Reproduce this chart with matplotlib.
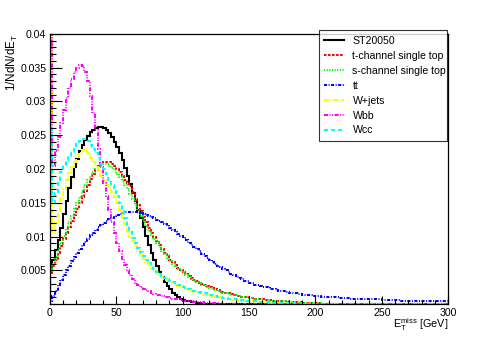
import numpy as np
import matplotlib
matplotlib.use("Agg")
import matplotlib.pyplot as plt
from matplotlib.lines import Line2D
from matplotlib.ticker import FixedLocator, FixedFormatter, MultipleLocator

plt.rcParams['font.family'] = ['Liberation Sans', 'DejaVu Sans']
plt.rcParams['mathtext.fontset'] = 'custom'
plt.rcParams['mathtext.rm'] = 'Liberation Sans'
plt.rcParams['mathtext.it'] = 'Liberation Sans:italic'
plt.rcParams['lines.scale_dashes'] = False

# ---------------- data (2 GeV bins, 0-300 GeV) ----------------
bin_edges_gev = np.arange(0, 302, 2)

st20050 = [
    0.0055, 0.0065, 0.0080, 0.0095, 0.0112, 0.0133, 0.0153, 0.0172, 0.0188, 0.0203,
    0.0215, 0.0226, 0.0235, 0.0243, 0.0249, 0.0254, 0.0258, 0.0261, 0.0262, 0.0262,
    0.0260, 0.0257, 0.0253, 0.0247, 0.0240, 0.0232, 0.0223, 0.0213, 0.0202, 0.0190,
    0.0178, 0.0165, 0.0152, 0.0139, 0.0127, 0.0114, 0.0101, 0.0088, 0.0076, 0.0066,
    0.0057, 0.0048, 0.0040, 0.0033, 0.0027, 0.0022, 0.0017, 0.0013, 0.0010, 0.0008,
    0.0006, 0.0005, 0.0004, 0.0003, 0.0003, 0.0002, 0.0002, 0.0001, 0.0001, 0.0001,
    0, 0, 0, 0, 0, 0, 0, 0, 0, 0,
    0, 0, 0, 0, 0, 0, 0, 0, 0, 0,
    0, 0, 0, 0, 0, 0, 0, 0, 0, 0,
    0, 0, 0, 0, 0, 0, 0, 0, 0, 0,
    0, 0, 0, 0, 0, 0, 0, 0, 0, 0,
    0, 0, 0, 0, 0, 0, 0, 0, 0, 0,
    0, 0, 0, 0, 0, 0, 0, 0, 0, 0,
    0, 0, 0, 0, 0, 0, 0, 0, 0, 0,
    0, 0, 0, 0, 0, 0, 0, 0, 0, 0,
]

t_channel = [
    0.0046, 0.0056, 0.0066, 0.0076, 0.0086, 0.0096, 0.0105, 0.0114, 0.0123, 0.0132,
    0.0141, 0.0150, 0.0159, 0.0168, 0.0177, 0.0185, 0.0192, 0.0198, 0.0204, 0.0208,
    0.0211, 0.0211, 0.0210, 0.0207, 0.0204, 0.0200, 0.0195, 0.0190, 0.0184, 0.0180,
    0.0175, 0.0166, 0.0156, 0.0147, 0.0138, 0.0129, 0.0121, 0.0113, 0.0106, 0.0099,
    0.0093, 0.0087, 0.0081, 0.0076, 0.0071, 0.0066, 0.0062, 0.0058, 0.0054, 0.0050,
    0.0047, 0.0044, 0.0041, 0.0039, 0.0036, 0.0034, 0.0032, 0.0030, 0.0028, 0.0027,
    0.0025, 0.0024, 0.0022, 0.0021, 0.0019, 0.0018, 0.0017, 0.0016, 0.0015, 0.0014,
    0.0013, 0.0012, 0.0011, 0.0011, 0.0010, 0.0009, 0.0009, 0.0008, 0.0008, 0.0007,
    0.0007, 0.0006, 0.0006, 0.0006, 0.0005, 0.0005, 0.0005, 0.0004, 0.0004, 0.0004,
    0.0003, 0.0003, 0.0003, 0.0003, 0.0003, 0.0002, 0.0002, 0.0002, 0.0002, 0.0002,
    0.0002, 0.0002, 0.0001, 0.0001, 0.0001, 0.0001, 0.0001, 0.0001, 0.0001, 0.0001,
    0.0001, 0.0001, 0.0001, 0.0001, 0.0001, 0.0001, 0.0001, 0.0001, 0.0001, 0.0001,
    0.0001, 0.0001, 0.0001, 0.0001, 0.00005, 0.00005, 0.00005, 0.00005, 0.00005, 0.00005,
    0.00005, 0.00005, 0.00005, 0.00005, 0.00005, 0.00005, 0.00005, 0.00005, 0.00005, 0.00005,
    0.00005, 0.00005, 0.00005, 0.00005, 0.00005, 0.00005, 0.00005, 0.00005, 0.00005, 0.00005,
]

s_channel = [
    0.0050, 0.0060, 0.0070, 0.0081, 0.0091, 0.0101, 0.0111, 0.0121, 0.0131, 0.0141,
    0.0150, 0.0159, 0.0168, 0.0176, 0.0183, 0.0189, 0.0195, 0.0200, 0.0203, 0.0206,
    0.0207, 0.0207, 0.0205, 0.0202, 0.0198, 0.0193, 0.0188, 0.0182, 0.0176, 0.0170,
    0.0163, 0.0155, 0.0147, 0.0139, 0.0131, 0.0123, 0.0116, 0.0109, 0.0102, 0.0096,
    0.0090, 0.0084, 0.0079, 0.0074, 0.0069, 0.0064, 0.0060, 0.0056, 0.0052, 0.0049,
    0.0046, 0.0043, 0.0040, 0.0037, 0.0035, 0.0033, 0.0031, 0.0029, 0.0027, 0.0025,
    0.0024, 0.0022, 0.0021, 0.0020, 0.0018, 0.0017, 0.0016, 0.0015, 0.0014, 0.0013,
    0.0012, 0.0012, 0.0011, 0.0010, 0.0010, 0.0009, 0.0008, 0.0008, 0.0007, 0.0007,
    0.0006, 0.0006, 0.0006, 0.0005, 0.0005, 0.0005, 0.0004, 0.0004, 0.0004, 0.0003,
    0.0003, 0.0003, 0.0003, 0.0003, 0.0003, 0.0002, 0.0002, 0.0002, 0.0002, 0.0002,
    0.0002, 0.0002, 0.0001, 0.0001, 0.0001, 0.0001, 0.0001, 0.0001, 0.0001, 0.0001,
    0.0001, 0.0001, 0.0001, 0.0001, 0.0001, 0.0001, 0.0001, 0.0001, 0.0001, 0.0001,
    0.00005, 0.00005, 0.00005, 0.00005, 0.00005, 0.00005, 0.00005, 0.00005, 0.00005, 0.00005,
    0.00005, 0.00005, 0.00005, 0.00005, 0.00005, 0.00005, 0.00005, 0.00005, 0.00005, 0.00005,
    0.00005, 0.00005, 0.00005, 0.00005, 0.00005, 0.00005, 0.00005, 0.00005, 0.00005, 0.00005,
]

ttbar = [
    0.0004, 0.0012, 0.0020, 0.0028, 0.0036, 0.0043, 0.0050, 0.0057, 0.0064, 0.0070,
    0.0076, 0.0082, 0.0087, 0.0092, 0.0097, 0.0102, 0.0106, 0.0110, 0.0114, 0.0117,
    0.0120, 0.0123, 0.0126, 0.0128, 0.0130, 0.0132, 0.0134, 0.0135, 0.0136, 0.0137,
    0.0137, 0.0137, 0.0137, 0.0136, 0.0135, 0.0134, 0.0132, 0.0131, 0.0129, 0.0127,
    0.0125, 0.0123, 0.0121, 0.0118, 0.0116, 0.0113, 0.0110, 0.0107, 0.0104, 0.0101,
    0.0098, 0.0095, 0.0091, 0.0088, 0.0085, 0.0081, 0.0078, 0.0075, 0.0072, 0.0069,
    0.0066, 0.0063, 0.0060, 0.0057, 0.0055, 0.0052, 0.0050, 0.0047, 0.0045, 0.0043,
    0.0041, 0.0039, 0.0037, 0.0035, 0.0034, 0.0032, 0.0031, 0.0029, 0.0028, 0.0027,
    0.0026, 0.0025, 0.0024, 0.0023, 0.0022, 0.0021, 0.0020, 0.0019, 0.0019, 0.0018,
    0.0017, 0.0017, 0.0016, 0.0015, 0.0015, 0.0014, 0.0014, 0.0013, 0.0013, 0.0012,
    0.0012, 0.0012, 0.0011, 0.0011, 0.0011, 0.0010, 0.0010, 0.0010, 0.0010, 0.0009,
    0.0009, 0.0009, 0.0009, 0.0008, 0.0008, 0.0008, 0.0008, 0.0008, 0.0007, 0.0007,
    0.0007, 0.0007, 0.0007, 0.0007, 0.0007, 0.0006, 0.0006, 0.0006, 0.0006, 0.0006,
    0.0006, 0.0006, 0.0005, 0.0005, 0.0005, 0.0005, 0.0005, 0.0005, 0.0005, 0.0005,
    0.0004, 0.0004, 0.0004, 0.0004, 0.0004, 0.0004, 0.0004, 0.0004, 0.0004, 0.0004,
]

w_jets = [
    0.0450, 0.0105, 0.0120, 0.0138, 0.0155, 0.0170, 0.0183, 0.0194, 0.0203, 0.0211,
    0.0218, 0.0224, 0.0228, 0.0229, 0.0223, 0.0216, 0.0210, 0.0204, 0.0197, 0.0189,
    0.0182, 0.0176, 0.0172, 0.0166, 0.0158, 0.0149, 0.0139, 0.0128, 0.0118, 0.0108,
    0.0100, 0.0093, 0.0086, 0.0079, 0.0073, 0.0067, 0.0062, 0.0057, 0.0053, 0.0049,
    0.0046, 0.0043, 0.0040, 0.0037, 0.0035, 0.0033, 0.0031, 0.0029, 0.0027, 0.0026,
    0.0024, 0.0022, 0.0021, 0.0019, 0.0018, 0.0017, 0.0016, 0.0015, 0.0014, 0.0013,
    0.0012, 0.0011, 0.0010, 0.0010, 0.0009, 0.0008, 0.0008, 0.0007, 0.0007, 0.0006,
    0.0006, 0.0005, 0.0005, 0.0005, 0.0004, 0.0004, 0.0004, 0.0003, 0.0003, 0.0003,
    0.0003, 0.0003, 0.0002, 0.0002, 0.0002, 0.0002, 0.0002, 0.0002, 0.0002, 0.0002,
    0.0002, 0.0002, 0.0001, 0.0001, 0.0001, 0.0001, 0.0001, 0.0001, 0.0001, 0.0001,
    0.0001, 0.0001, 0.0001, 0.0001, 0.0001, 0.0001, 0.0001, 0.0001, 0.0001, 0.0001,
    0.00005, 0.00005, 0.00005, 0.00005, 0.00005, 0.00005, 0.00005, 0.00005, 0.00005, 0.00005,
    0.00005, 0.00005, 0.00005, 0.00005, 0.00005, 0.00005, 0.00005, 0.00005, 0.00005, 0.00005,
    0.00005, 0.00005, 0.00005, 0.00005, 0.00005, 0.00005, 0.00005, 0.00005, 0.00005, 0.00005,
    0.00005, 0.00005, 0.00005, 0.00005, 0.00005, 0.00005, 0.00005, 0.00005, 0.00005, 0.00005,
]

wbb = [
    0.0450, 0.0205, 0.0226, 0.0248, 0.0268, 0.0288, 0.0305, 0.0320, 0.0333, 0.0343,
    0.0350, 0.0354, 0.0352, 0.0344, 0.0330, 0.0308, 0.0283, 0.0258, 0.0230, 0.0203,
    0.0180, 0.0160, 0.0140, 0.0122, 0.0105, 0.0091, 0.0078, 0.0067, 0.0058, 0.0050,
    0.0043, 0.0037, 0.0032, 0.0029, 0.0026, 0.0023, 0.0021, 0.0019, 0.0017, 0.0015,
    0.0014, 0.0013, 0.0012, 0.0011, 0.0010, 0.0009, 0.0008, 0.0007, 0.0007, 0.0006,
    0.0005, 0.0005, 0.0004, 0.0004, 0.0003, 0.0003, 0.0003, 0.0003, 0.0002, 0.0002,
    0.0002, 0.0002, 0.0002, 0.0002, 0.0001, 0.0001, 0.0001, 0.0001, 0.0001, 0.0001,
    0.0001, 0.0001, 0.0001, 0.0001, 0.0001, 0.0001, 0.0001, 0.0001, 0.0001, 0.0001,
    0, 0, 0, 0, 0, 0, 0, 0, 0, 0,
    0, 0, 0, 0, 0, 0, 0, 0, 0, 0,
    0, 0, 0, 0, 0, 0, 0, 0, 0, 0,
    0, 0, 0, 0, 0, 0, 0, 0, 0, 0,
    0, 0, 0, 0, 0, 0, 0, 0, 0, 0,
    0, 0, 0, 0, 0, 0, 0, 0, 0, 0,
    0, 0, 0, 0, 0, 0, 0, 0, 0, 0,
]

wcc = [
    0.0260, 0.0150, 0.0165, 0.0182, 0.0196, 0.0206, 0.0213, 0.0219, 0.0225, 0.0231,
    0.0237, 0.0242, 0.0245, 0.0244, 0.0241, 0.0236, 0.0230, 0.0223, 0.0216, 0.0208,
    0.0200, 0.0192, 0.0184, 0.0177, 0.0169, 0.0160, 0.0149, 0.0138, 0.0127, 0.0117,
    0.0107, 0.0098, 0.0090, 0.0083, 0.0077, 0.0071, 0.0066, 0.0061, 0.0056, 0.0052,
    0.0048, 0.0045, 0.0042, 0.0039, 0.0037, 0.0035, 0.0033, 0.0031, 0.0029, 0.0027,
    0.0025, 0.0024, 0.0022, 0.0021, 0.0020, 0.0019, 0.0018, 0.0017, 0.0016, 0.0015,
    0.0014, 0.0013, 0.0012, 0.0011, 0.0010, 0.0009, 0.0009, 0.0008, 0.0008, 0.0007,
    0.0007, 0.0006, 0.0006, 0.0005, 0.0005, 0.0005, 0.0004, 0.0004, 0.0004, 0.0003,
    0.0003, 0.0003, 0.0003, 0.0002, 0.0002, 0.0002, 0.0002, 0.0002, 0.0002, 0.0002,
    0.0002, 0.0002, 0.0001, 0.0001, 0.0001, 0.0001, 0.0001, 0.0001, 0.0001, 0.0001,
    0.0001, 0.0001, 0.0001, 0.0001, 0.0001, 0.0001, 0.0001, 0.0001, 0.0001, 0.0001,
    0.00005, 0.00005, 0.00005, 0.00005, 0.00005, 0.00005, 0.00005, 0.00005, 0.00005, 0.00005,
    0.00005, 0.00005, 0.00005, 0.00005, 0.00005, 0.00005, 0.00005, 0.00005, 0.00005, 0.00005,
    0.00005, 0.00005, 0.00005, 0.00005, 0.00005, 0.00005, 0.00005, 0.00005, 0.00005, 0.00005,
    0.00005, 0.00005, 0.00005, 0.00005, 0.00005, 0.00005, 0.00005, 0.00005, 0.00005, 0.00005,
]

series_labels = ["ST20050", "t-channel single top", "s-channel single top",
                 "tt", "W+jets", "Wbb", "Wcc"]
series_values = [st20050, t_channel, s_channel, ttbar, w_jets, wbb, wcc]

y_tick_values = [0.005, 0.01, 0.015, 0.02, 0.025, 0.03, 0.035, 0.04]
y_tick_labels = ["0.005", "0.01", "0.015", "0.02", "0.025", "0.03", "0.035", "0.04"]
x_tick_values = [0, 50, 100, 150, 200, 250, 300]
x_tick_labels = ["0", "50", "100", "150", "200", "250", "300"]

# ---------------- styles ----------------
colors = ["#000000", "#ff0000", "#00ff00", "#0000ff", "#ffff00", "#ff00ff", "#00ffff"]
styles = ["-",
          (0, (1.8, 1.1)),
          (0, (0.8, 1.1)),
          (0, (2.2, 1.1, 0.7, 1.1)),
          (0, (3.6, 1.1, 0.7, 1.1)),
          (0, (2.9, 1.1, 0.7, 1.1, 0.7, 1.1)),
          (0, (2.9, 2.2))]
widths = [1.5, 1.45, 1.45, 1.45, 1.45, 1.45, 1.45]

fig = plt.figure(figsize=(4.98, 3.38), dpi=100)
ax = fig.add_axes([0.1, 0.1, 0.8, 0.8])

for vals, c, ls, lw in zip(series_values, colors, styles, widths):
    ax.stairs(vals, bin_edges_gev, color=c, linestyle=ls, linewidth=lw,
              baseline=0, fill=False)

ax.set_xlim(0, 300)
ax.set_ylim(0, 0.04)

ax.yaxis.set_major_locator(FixedLocator(y_tick_values))
ax.yaxis.set_major_formatter(FixedFormatter(y_tick_labels))
ax.yaxis.set_minor_locator(MultipleLocator(0.001))
ax.xaxis.set_major_locator(FixedLocator(x_tick_values))
ax.xaxis.set_major_formatter(FixedFormatter(x_tick_labels))
ax.xaxis.set_minor_locator(MultipleLocator(10))

ax.tick_params(axis='y', which='major', direction='in', length=8.6, width=0.8,
               labelsize=7.6, pad=2.5, right=False)
ax.tick_params(axis='y', which='minor', direction='in', length=4.0, width=0.8, right=False)
ax.tick_params(axis='x', which='major', direction='in', length=5.8, width=0.8,
               labelsize=7.6, pad=2.5, top=False)
ax.tick_params(axis='x', which='minor', direction='in', length=2.9, width=0.8, top=False)
for s in ax.spines.values():
    s.set_linewidth(0.9)

ax.text(1.0, -(324 - 304) / 270, r"E$_{\mathrm{T}}^{\mathrm{miss}}$ [GeV]",
        transform=ax.transAxes, ha='right', va='center', fontsize=7.8)
ax.text(-(49 - 12) / 400, 1.0, r"1/NdN/dE$_{\mathrm{T}}$",
        transform=ax.transAxes, ha='center', va='top', rotation=90, fontsize=8.4)

handles = [Line2D([], [], color=c, linestyle=ls, linewidth=lw)
           for c, ls, lw in zip(colors, styles, widths)]
leg = fig.legend(handles, series_labels, loc='upper left',
                 bbox_to_anchor=(0.64, 0.583, 0.257, 0.327), mode='expand',
                 fontsize=7.6, frameon=True, fancybox=False, shadow=False,
                 borderpad=0.5, labelspacing=0.47, handlelength=1.9,
                 handletextpad=0.8, borderaxespad=0.0)
leg.get_frame().set_edgecolor('black')
leg.get_frame().set_linewidth(0.8)

fig.savefig("out.png", dpi=100)
